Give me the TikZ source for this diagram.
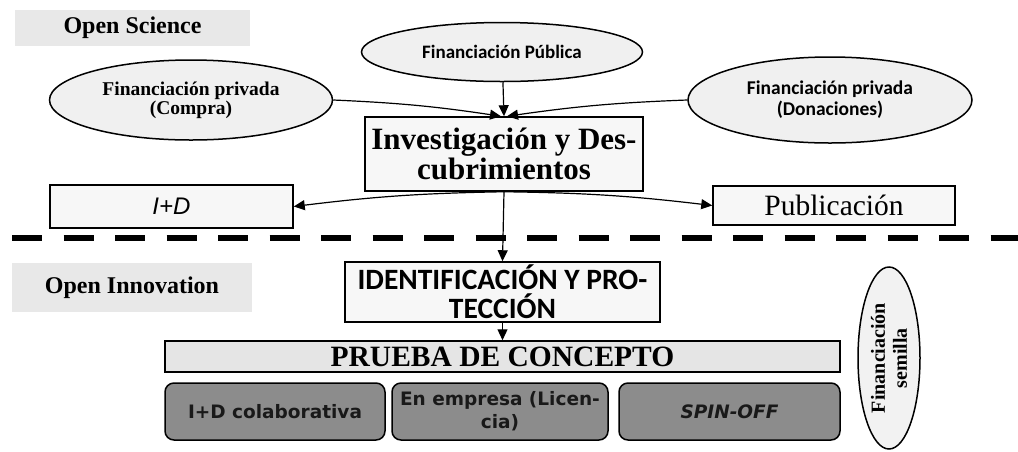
\documentclass[tikz,border=0pt]{standalone}
\usepackage{fontspec}
\setmainfont{Liberation Serif}
\newfontfamily\calfont{Carlito}
\newfontfamily\verdfont{DejaVu Sans}
\newfontfamily\arialfont{Liberation Sans}
\usetikzlibrary{shapes.geometric,arrows.meta}
\begin{document}
\begin{tikzpicture}[x=1pt,y=-1pt,
  lbl/.style={rectangle, fill=gray!18, inner sep=0, font=\bfseries\fontsize{24}{26}\selectfont},
  ell/.style={ellipse, draw, line width=1.5pt, fill=gray!12, inner sep=0, align=center},
  bx/.style={rectangle, draw, line width=1.5pt, fill=gray!6, inner sep=0, align=center},
  rbox/.style={rectangle, rounded corners=9pt, draw, line width=1.5pt, fill=black!45, inner sep=0, align=center, text=black!90, font=\verdfont\bfseries\fontsize{18.5}{23}\selectfont},
  arr/.style={-{Triangle[length=11pt,width=10pt]}, line width=1.2pt}]
\useasboundingbox[fill=white] (0,0) rectangle (1018,451);

% labels
\node[lbl, minimum width=235pt, minimum height=36pt] (os) at (132.5,28) {Open Science};
\node[lbl, minimum width=240pt, minimum height=49pt] (oi) at (132,287.5) {Open Innovation};

% funding ellipses
\node[ell, minimum width=281pt, minimum height=59pt, font=\calfont\bfseries\fontsize{19}{21}\selectfont] (pub) at (502,52) {Financiación Pública};
\node[ell, minimum width=283pt, minimum height=80pt, font=\bfseries\fontsize{19.5}{19}\selectfont] (priv1) at (191,100) {Financiación privada\\(Compra)};
\node[ell, minimum width=284pt, minimum height=86pt, font=\calfont\bfseries\fontsize{19.5}{21}\selectfont] (priv2) at (830,100) {Financiación privada\\(Donaciones)};

% research box
\node[bx, minimum width=278pt, minimum height=74pt, font=\bfseries\fontsize{31}{24.5}\selectfont] (inv) at (504,154) {\raisebox{-3pt}{\parbox{270pt}{\centering Investigación y Des-\\cubrimientos}}};

\node[bx, minimum width=243pt, minimum height=43pt, font=\arialfont\itshape\fontsize{24}{26}\selectfont] (id) at (171.5,206.5) {I+D};
\node[bx, minimum width=242pt, minimum height=39pt, font=\fontsize{29.5}{31}\selectfont] (publ) at (834,205.5) {Publicación};

% dashed separator
\coordinate (dl) at (12,238);
\coordinate (dr) at (1018,238);
\draw[line width=6pt, dash pattern=on 30pt off 21.5pt] (dl) -- (dr);

% innovation part
\node[bx, minimum width=315pt, minimum height=60pt, font=\calfont\bfseries\fontsize{29.5}{29}\selectfont] (ident) at (502.5,292) {IDENTIFICACIÓN Y PRO-\\TECCIÓN};
\node[bx, fill=gray!20, minimum width=675pt, minimum height=31pt, font=\bfseries\fontsize{29.5}{30}\selectfont] (prueba) at (502.5,356.5) {PRUEBA DE CONCEPTO};

\node[rbox, minimum width=220pt, minimum height=57pt] (colab) at (275,411.5) {I+D colaborativa};
\node[rbox, minimum width=216pt, minimum height=57pt] (emp) at (500,411.5) {En empresa (Licen-\\cia)};
\node[rbox, minimum width=221pt, minimum height=57pt, font=\verdfont\bfseries\itshape\fontsize{18.5}{23}\selectfont] (spin) at (729.5,411.5) {SPIN-OFF};

\node[ell, minimum width=62pt, minimum height=182pt, fill=gray!10] (sem) at (889,358) {};
\node[rotate=90, align=center, inner sep=0, font=\bfseries\fontsize{20}{22}\selectfont] (semt) at (sem.center) {Financiación\\semilla};

% connectors
\draw[arr] (pub) -- (inv.north);
\draw[arr] (priv1.east) to[bend left=3] ([xshift=-3pt]inv.north);
\draw[arr] (priv2.west) to[bend right=3] ([xshift=3pt]inv.north);
\draw[arr] (inv.south) to[bend right=3] (id.east);
\draw[arr] (inv.south) to[bend left=3] (publ.west);
\draw[arr] (inv.south) -- (ident.north);
\draw[arr] (ident.south) -- (prueba.north);
\end{tikzpicture}
\end{document}
